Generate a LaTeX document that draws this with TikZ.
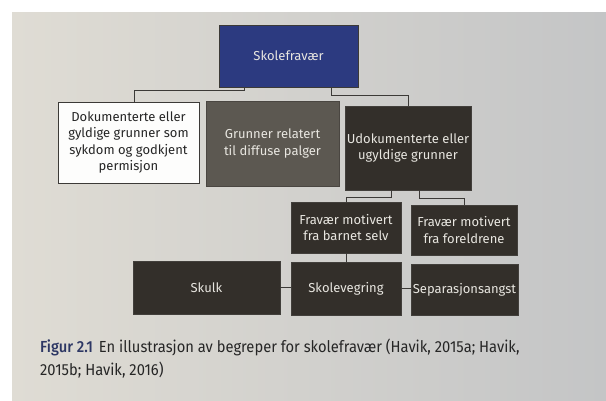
\documentclass[tikz,border=0pt]{standalone}
\usepackage{fontspec}
\setmainfont{Fira Sans}
\newfontfamily\capfont[FakeStretch=0.92]{Fira Sans}
\newfontfamily\capboldfont[FakeStretch=0.92]{Fira Sans Medium}
\definecolor{navy}{RGB}{44,58,128}
\definecolor{midgray}{RGB}{92,88,81}
\definecolor{darkbox}{RGB}{51,47,42}
\definecolor{paperL}{RGB}{223,220,212}
\definecolor{paperR}{RGB}{196,197,198}
\definecolor{lighttext}{RGB}{232,230,224}
\definecolor{linecol}{RGB}{60,58,55}
\definecolor{capblue}{RGB}{45,55,100}
\tikzset{
  boxbase/.style={inner sep=0pt, align=center, font=\fontsize{13}{16.5}\selectfont, draw=linecol, line width=0.6pt},
  bluebox/.style={boxbase, fill=navy, text=lighttext},
  whitebox/.style={boxbase, fill=white!94!paperL, text=black!85},
  graybox/.style={boxbase, fill=midgray, text=lighttext, draw=midgray!80!black},
  darkbox/.style={boxbase, fill=darkbox, text=lighttext, draw=darkbox!80!gray},
  conn/.style={draw=linecol, line width=0.8pt},
  captxt/.style={anchor=base west, inner sep=0pt, font=\capfont\fontsize{16}{19}\selectfont, text=black!85}
}
\begin{document}
\begin{tikzpicture}[x=1pt,y=-1pt]
\useasboundingbox (0,0) rectangle (606,400);
\fill[white] (0,0) rectangle (606,400);
\shade[left color=paperL, right color=paperR] (12,12) rectangle (606,400);

\node[bluebox, minimum width=139pt, minimum height=62pt] (top) at (288.5,56) {Skolefravær};
\node[whitebox, minimum width=141pt, minimum height=81pt] (doc) at (128.5,142.5) {Dokumenterte eller\\gyldige grunner som\\sykdom og godkjent\\permisjon};
\node[graybox, minimum width=133pt, minimum height=85pt] (grun) at (272.5,143.5) {Grunner relatert\\til diffuse palger};
\node[darkbox, minimum width=126pt, minimum height=84pt] (udok) at (408,148) {Udokumenterte eller\\ugyldige grunner};
\node[darkbox, minimum width=110pt, minimum height=51pt] (fb) at (346,227.5) {Fravær motivert\\fra barnet selv};
\node[darkbox, minimum width=106pt, minimum height=50pt] (ff) at (464,230) {Fravær motivert\\fra foreldrene};
\node[darkbox, minimum width=147pt, minimum height=53pt] (skulk) at (206.5,287.5) {Skulk};
\node[darkbox, minimum width=110pt, minimum height=53pt] (skol) at (346,288.5) {Skolevegring};
\node[darkbox, minimum width=107pt, minimum height=51pt] (sep) at (464.5,289.5) {Separasjonsangst};

\draw[conn] ([xshift=-44.5pt]top.south) -- ++(0,3) -| ([xshift=5.5pt]doc.north);
\draw[conn] ([xshift=42.5pt]top.south) -- ++(0,8) -| (udok.north);
\draw[conn] ([xshift=-17pt]udok.south) -- ++(0,7) -| (fb.north);
\draw[conn] ([xshift=11pt]udok.south) -- ++(0,8) -| (ff.north);
\draw[conn] (fb.south) -- (skol.north);
\draw[conn] (skulk.east) -- (skulk.east -| skol.west);
\draw[conn] (skol.east) -- (skol.east -| sep.west);

\node[captxt] (cap1) at (40,352) {{\color{capblue}\capboldfont Figur 2.1}\hspace{6pt}En illustrasjon av begreper for skolefravær (Havik, 2015a; Havik,};
\node[captxt] (cap2) at (40,375) {2015b; Havik, 2016)};
\end{tikzpicture}
\end{document}
